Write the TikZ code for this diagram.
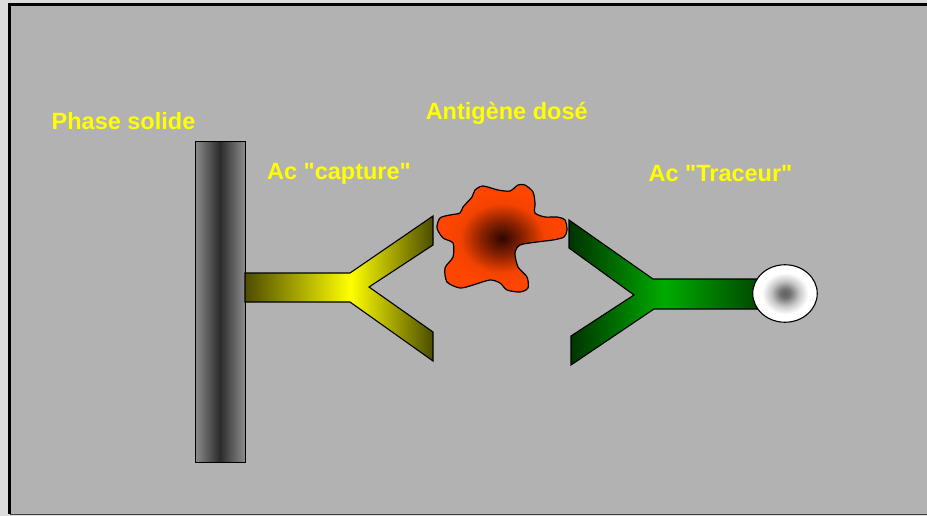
\documentclass[tikz,border=0pt]{standalone}
\usepackage{fontspec}
\setmainfont{Liberation Sans}[Ligatures=TeXOff]
\usetikzlibrary{shapes.geometric}

\definecolor{panelgray}{HTML}{B2B2B2}
\definecolor{outergray}{HTML}{DCDCDC}
\definecolor{labelyellow}{HTML}{FFFF00}
\definecolor{agcore}{HTML}{2E0700}
\definecolor{agmid}{HTML}{8A2200}
\definecolor{agouter}{HTML}{FF4600}

% horizontal gradients: the path box spans 25bp..75bp
\pgfdeclarehorizontalshading{barshade}{100bp}{
  color(0bp)=(black!45); color(25bp)=(black!45);
  color(50bp)=(black!83);
  color(75bp)=(black!45); color(100bp)=(black!45)}
\pgfdeclarehorizontalshading{yellowshade}{100bp}{
  color(0bp)=(yellow!30!black); color(25bp)=(yellow!30!black);
  color(53bp)=(yellow);
  color(75bp)=(yellow!30!black); color(100bp)=(yellow!30!black)}
\pgfdeclarehorizontalshading{greenshade}{100bp}{
  color(0bp)=(green!20!black); color(25bp)=(green!20!black);
  color(50bp)=(green!67!black);
  color(75bp)=(green!28!black); color(100bp)=(green!28!black)}
\pgfdeclareradialshading{antigenshade}{\pgfpoint{0bp}{0bp}}{
  color(0bp)=(agcore); color(8bp)=(agmid);
  color(16bp)=(agouter!90!agmid); color(22bp)=(agouter);
  color(50bp)=(agouter)}
\pgfdeclareradialshading{labelshade}{\pgfpoint{0bp}{0bp}}{
  color(0bp)=(black!62); color(4bp)=(black!55);
  color(11bp)=(black!22); color(18bp)=(white); color(50bp)=(white)}

\tikzset{
  label text/.style={text=labelyellow, font=\bfseries\fontsize{23.5}{28}\selectfont,
    inner sep=0pt, anchor=base},
  outline/.style={draw=black, line width=1.1pt, line join=miter},
}

\begin{document}
\begin{tikzpicture}[x=1pt, y=-1pt]
  \useasboundingbox (0,0) rectangle (927,516);
  \fill[outergray] (0,0) rectangle (927,516);

  % panel
  \fill[panelgray] (9.5,4.3) rectangle (940,514);
  \draw[line width=2.6pt] (9.5,514) -- (9.5,4.3) -- (940,4.3);
  \draw[line width=1.4pt, black!75] (9.5,514.3) -- (940,514.3);

  % solid phase
  \path[outline, line width=1pt, shading=barshade] (195,142) rectangle (245,462);

  % capture antibody
  \path[outline, shading=yellowshade]
    (245,273) -- (350,273) -- (433,216) -- (433,245) -- (369,287)
    -- (433,332) -- (433,361) -- (350,302) -- (245,302) -- cycle;

  % tracer antibody
  \path[outline, shading=greenshade]
    (760,279) -- (653,279) -- (569,220) -- (569,248) -- (634,295)
    -- (571,336) -- (571,365) -- (654,309) -- (760,309) -- cycle;

  % enzyme label
  \node (tag) [ellipse, draw=black, line width=1.1pt, minimum width=64.5pt,
    minimum height=57.5pt, inner sep=0pt, shading=labelshade] at (785,293.5) {};

  % antigen
  \path[outline, line width=1.2pt, line join=round, shading=antigenshade]
    plot[smooth cycle, tension=0.45] coordinates {
      (475,190) (483,186) (498,190) (510,191) (518,185) (525,185) (533,192)
      (535,203) (535,213) (545,217) (557,217) (565,220) (567,230) (564,237)
      (553,240) (537,242) (520,245) (515,253) (518,267) (527,277) (528,288)
      (520,292) (507,290) (500,283) (490,280) (473,285) (460,288) (447,282)
      (445,268) (453,257) (453,243) (443,238) (437,228) (440,218) (450,215)
      (460,213) (463,207) (472,197)};

  % labels
  \node (lsolid) [label text] at (123.5,129.5) {Phase solide};
  \node (lantigen) [label text] at (506.7,119.5) {Antigène dosé};
  \node (lcapture) [label text] at (339,179) {Ac "capture"};
  \node (ltracer) [label text] at (720.5,181.5) {Ac "Traceur"};
\end{tikzpicture}
\end{document}
